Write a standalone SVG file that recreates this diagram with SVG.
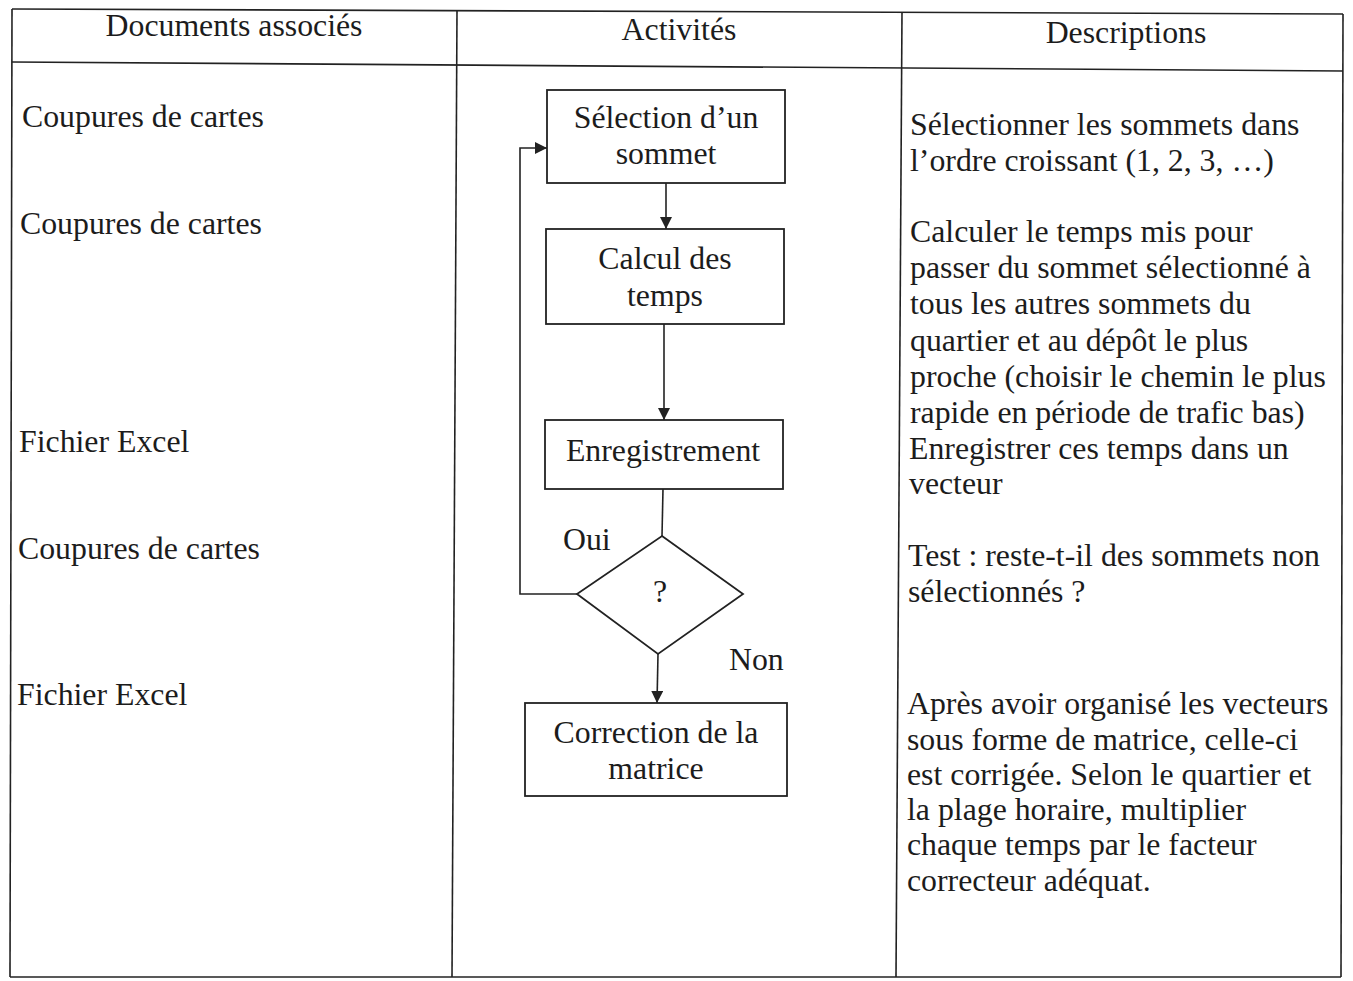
<svg xmlns="http://www.w3.org/2000/svg" width="1353" height="981" viewBox="0 0 1353 981">
<defs>
<style>
.t{font-family:"Liberation Serif","Times New Roman",serif;font-size:31.8px;fill:#1c1c1c}
.c{text-anchor:middle}
.ln{stroke:#222;stroke-width:1.6;fill:none}
.box{stroke:#222;stroke-width:1.8;fill:#fff}
</style>
<marker id="ah" viewBox="0 0 10 10" refX="10" refY="5" markerWidth="12" markerHeight="12" markerUnits="userSpaceOnUse" orient="auto">
<path d="M0,0 L10,5 L0,10 z" fill="#222"/>
</marker>
</defs>
<rect width="1353" height="981" fill="#fff"/>
<g id="table">
<line class="ln" x1="12" y1="9" x2="1343" y2="14"/>
<line class="ln" x1="12" y1="62" x2="1343" y2="71"/>
<line class="ln" x1="10" y1="977" x2="1341" y2="977"/>
<line class="ln" x1="12" y1="9" x2="10" y2="977"/>
<line class="ln" x1="457" y1="10" x2="452" y2="977"/>
<line class="ln" x1="902" y1="12" x2="896" y2="977"/>
<line class="ln" x1="1343" y1="14" x2="1341" y2="977"/>
</g>
<g id="headers">
<text class="t c" x="234" y="36">Documents associés</text>
<text class="t c" x="679" y="40">Activités</text>
<text class="t c" x="1126" y="43">Descriptions</text>
</g>
<g id="documents">
<text class="t" x="22" y="127">Coupures de cartes</text>
<text class="t" x="20" y="234">Coupures de cartes</text>
<text class="t" x="19" y="452">Fichier Excel</text>
<text class="t" x="18" y="559">Coupures de cartes</text>
<text class="t" x="17" y="705">Fichier Excel</text>
</g>
<g id="connectors">
<line class="ln" x1="666" y1="183" x2="666" y2="229" marker-end="url(#ah)"/>
<line class="ln" x1="664" y1="324" x2="664" y2="420" marker-end="url(#ah)"/>
<line class="ln" x1="663" y1="489" x2="662" y2="536"/>
<polyline class="ln" points="577,594 520,594 520,148 547,148" marker-end="url(#ah)"/>
<line class="ln" x1="658" y1="654" x2="657" y2="703" marker-end="url(#ah)"/>
</g>
<g id="n-selection">
<rect class="box" x="547" y="90" width="238" height="93"/>
<text class="t c" x="666" y="128">Sélection d’un</text>
<text class="t c" x="666" y="164">sommet</text>
</g>
<g id="n-calcul">
<rect class="box" x="546" y="229" width="238" height="95"/>
<text class="t c" x="665" y="269">Calcul des</text>
<text class="t c" x="665" y="306">temps</text>
</g>
<g id="n-enregistrement">
<rect class="box" x="545" y="420" width="238" height="69"/>
<text class="t c" x="663" y="461">Enregistrement</text>
</g>
<g id="n-test">
<polygon class="box" points="662,536 743,594 658,654 577,594"/>
<text class="t c" x="660" y="602">?</text>
</g>
<g id="labels">
<text class="t" x="563" y="550">Oui</text>
<text class="t" x="729" y="670">Non</text>
</g>
<g id="n-correction">
<rect class="box" x="525" y="703" width="262" height="93"/>
<text class="t c" x="656" y="743">Correction de la</text>
<text class="t c" x="656" y="779">matrice</text>
</g>
<g id="descriptions">
<text class="t" x="910" y="135">Sélectionner les sommets dans</text>
<text class="t" x="910" y="171">l’ordre croissant (1, 2, 3, …)</text>
<text class="t" x="910" y="242">Calculer le temps mis pour</text>
<text class="t" x="910" y="278">passer du sommet sélectionné à</text>
<text class="t" x="910" y="314">tous les autres sommets du</text>
<text class="t" x="910" y="351">quartier et au dépôt le plus</text>
<text class="t" x="910" y="387">proche (choisir le chemin le plus</text>
<text class="t" x="910" y="423">rapide en période de trafic bas)</text>
<text class="t" x="909" y="459">Enregistrer ces temps dans un</text>
<text class="t" x="909" y="494">vecteur</text>
<text class="t" x="908" y="566">Test : reste-t-il des sommets non</text>
<text class="t" x="908" y="602">sélectionnés ?</text>
<text class="t" x="907" y="714">Après avoir organisé les vecteurs</text>
<text class="t" x="907" y="750">sous forme de matrice, celle-ci</text>
<text class="t" x="907" y="785">est corrigée. Selon le quartier et</text>
<text class="t" x="907" y="820">la plage horaire, multiplier</text>
<text class="t" x="907" y="855">chaque temps par le facteur</text>
<text class="t" x="907" y="891">correcteur adéquat.</text>
</g>
</svg>
